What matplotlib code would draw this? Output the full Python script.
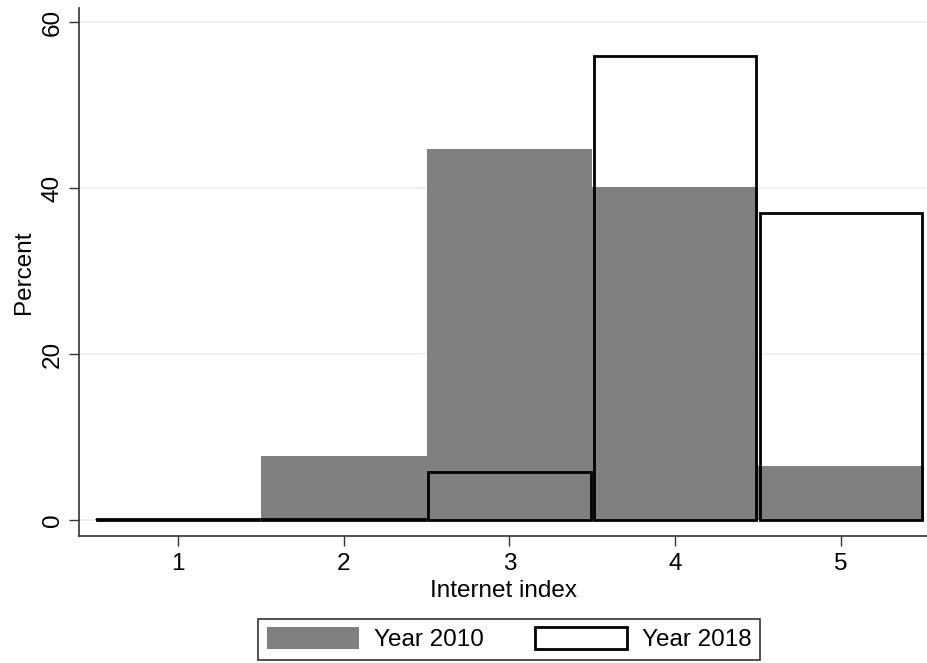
import numpy as np
from matplotlib import pyplot as plt

plt.rcParams['font.family'] = ['Liberation Sans', 'DejaVu Sans']

# Internet index categories and percent shares
index = [1, 2, 3, 4, 5]
pct_2010 = [0.1, 7.7, 44.8, 40.2, 6.5]
pct_2018 = [0.1, 0.1, 5.8, 56.0, 37.0]

fs = 17.5

fig = plt.figure(figsize=(9.27, 6.63), dpi=100)
ax = fig.add_axes([0.0852, 0.1916, 0.915, 0.797])

ax.bar(index, pct_2010, width=1.0, color='#808080', edgecolor='none',
       label='Year 2010', zorder=2)
ax.bar(index, pct_2018, width=0.98, fill=False, edgecolor='black',
       linewidth=2, label='Year 2018', zorder=3)

ax.set_xlim(0.403, 5.52)
ax.set_ylim(-1.9, 61.8)
ax.set_xticks(index)
ax.set_yticks([0, 20, 40, 60])
ax.set_yticklabels(['0', '20', '40', '60'], rotation=90, va='center')
ax.tick_params(labelsize=fs, length=7, width=1, color='#333333')
ax.tick_params(axis='x', pad=5)
ax.tick_params(axis='y', pad=4)
ax.grid(axis='y', color='#eaf2f3', linewidth=1.5, zorder=0)
ax.set_axisbelow(True)
for s in ['top', 'right']:
    ax.spines[s].set_visible(False)
for s in ['left', 'bottom']:
    ax.spines[s].set_color('#333333')
    ax.spines[s].set_linewidth(1.2)

ax.set_xlabel("Internet index", fontsize=fs, labelpad=4)
ax.set_ylabel("Percent", fontsize=fs, labelpad=5)

leg = fig.legend(loc='center', bbox_to_anchor=(0.549, 0.036), ncol=2,
                 fontsize=fs, handlelength=3.8, handleheight=1.0,
                 columnspacing=2.1, fancybox=False, edgecolor='black',
                 borderpad=0.35, handletextpad=0.6, borderaxespad=0)
leg.get_frame().set_linewidth(1.2)

plt.savefig('out.png')
